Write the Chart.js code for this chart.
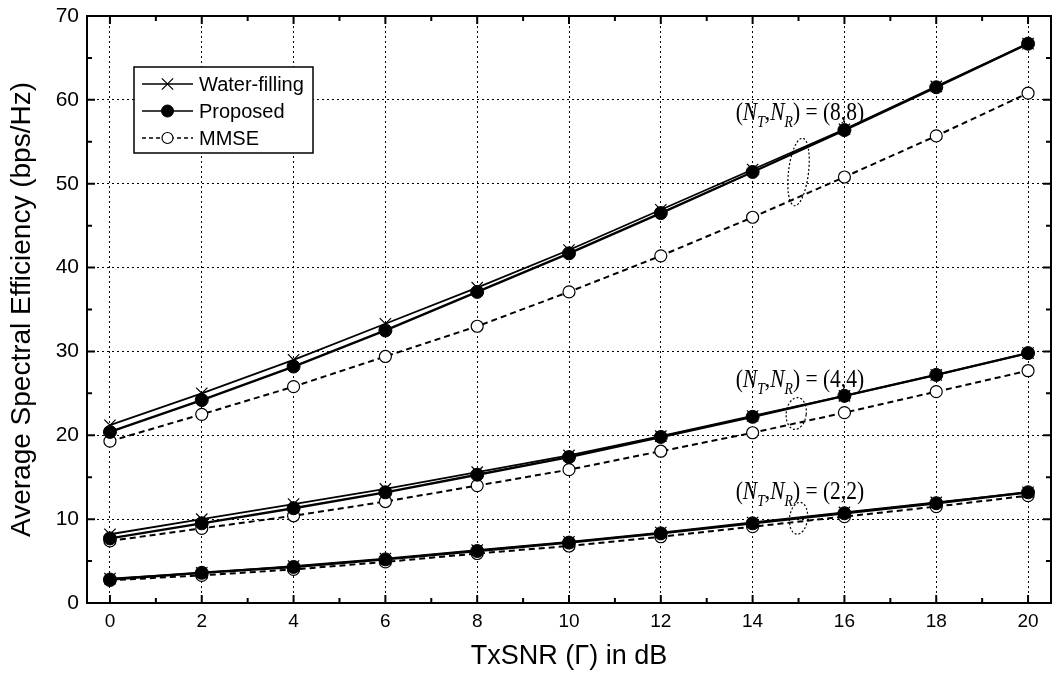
<!DOCTYPE html>
<html lang="en">
<head>
    <meta charset="UTF-8">
    <title>Average Spectral Efficiency vs TxSNR</title>
    <script src="https://cdn.jsdelivr.net/npm/chart.js"></script>
    <style>
        html, body { margin: 0; padding: 0; background: #fff; }
        #wrap { width: 1056px; height: 675px; }
    </style>
</head>
<body>
    <div id="wrap"><canvas id="seChart"></canvas></div>

    <script>
        // TxSNR points (dB)
        const snrDb = [0, 2, 4, 6, 8, 10, 12, 14, 16, 18, 20];

        // (NT,NR) = (8,8)
        const wf8   = [21.2, 25.0, 29.0, 33.3, 37.6, 42.1, 46.9, 51.7, 56.5, 61.6, 66.7];
        const prop8 = [20.4, 24.2, 28.2, 32.5, 37.1, 41.7, 46.5, 51.4, 56.4, 61.5, 66.7];
        const mmse8 = [19.3, 22.5, 25.8, 29.4, 33.0, 37.1, 41.4, 46.0, 50.8, 55.7, 60.8];

        // (NT,NR) = (4,4)
        const wf4   = [8.2, 10.0, 11.8, 13.6, 15.6, 17.6, 19.9, 22.3, 24.7, 27.2, 29.8];
        const prop4 = [7.7, 9.5, 11.3, 13.2, 15.3, 17.4, 19.8, 22.2, 24.7, 27.2, 29.8];
        const mmse4 = [7.4, 8.9, 10.4, 12.1, 14.0, 15.9, 18.1, 20.3, 22.7, 25.2, 27.7];

        // (NT,NR) = (2,2)
        const wf2   = [2.9, 3.6, 4.4, 5.3, 6.3, 7.3, 8.4, 9.6, 10.8, 12.0, 13.2];
        const prop2 = [2.8, 3.6, 4.3, 5.2, 6.2, 7.2, 8.3, 9.5, 10.7, 11.9, 13.2];
        const mmse2 = [2.7, 3.3, 4.0, 4.9, 5.9, 6.8, 7.9, 9.1, 10.3, 11.5, 12.8];

        const xTicks = [0, 2, 4, 6, 8, 10, 12, 14, 16, 18, 20];
        const yTicks = [0, 10, 20, 30, 40, 50, 60, 70];
        const legendNames = ['Water-filling', 'Proposed', 'MMSE'];
        const antennaSets = ['8,8', '4,4', '2,2'];

        const toPoints = ys => ys.map((y, i) => ({ x: snrDb[i], y: y }));

        const styles = {
            wf:   { borderColor: '#000', borderWidth: 1.8, pointStyle: 'crossRot', pointRadius: 8,
                    pointBorderWidth: 1.2, pointBackgroundColor: '#000', pointBorderColor: '#000' },
            prop: { borderColor: '#000', borderWidth: 2.4, pointStyle: 'circle', pointRadius: 6.5,
                    pointBorderWidth: 1, pointBackgroundColor: '#000', pointBorderColor: '#000' },
            mmse: { borderColor: '#000', borderWidth: 2, borderDash: [6, 4], pointStyle: 'circle', pointRadius: 6,
                    pointBorderWidth: 1.2, pointBackgroundColor: '#fff', pointBorderColor: '#000' }
        };

        function series(label, ys, st) {
            return Object.assign({ label: label, data: toPoints(ys), fill: false, tension: 0 }, st);
        }

        const datasets = [
            series('Proposed', prop8, styles.prop),
            series('Water-filling', wf8, styles.wf),
            series('MMSE', mmse8, styles.mmse),
            series('Proposed', prop4, styles.prop),
            series('Water-filling', wf4, styles.wf),
            series('MMSE', mmse4, styles.mmse),
            series('Proposed', prop2, styles.prop),
            series('Water-filling', wf2, styles.wf),
            series('MMSE', mmse2, styles.mmse)
        ];

        // frame with inward major/minor ticks
        const framePlugin = {
            id: 'frame',
            afterDraw(chart) {
                const { ctx, chartArea: a, scales: { x, y } } = chart;
                ctx.save();
                ctx.strokeStyle = '#000';
                ctx.lineWidth = 2;
                ctx.strokeRect(a.left, a.top, a.right - a.left, a.bottom - a.top);
                ctx.beginPath();
                for (let v = 0; v <= 20; v++) {
                    const px = x.getPixelForValue(v);
                    const len = v % 2 === 0 ? 8 : 5;
                    ctx.moveTo(px, a.bottom); ctx.lineTo(px, a.bottom - len);
                    ctx.moveTo(px, a.top); ctx.lineTo(px, a.top + len);
                }
                for (let v = 0; v <= 70; v += 5) {
                    const py = y.getPixelForValue(v);
                    const len = v % 10 === 0 ? 8 : 5;
                    ctx.moveTo(a.left, py); ctx.lineTo(a.left + len, py);
                    ctx.moveTo(a.right, py); ctx.lineTo(a.right - len, py);
                }
                ctx.stroke();
                ctx.restore();
            }
        };

        // boxed legend in the upper left of the plot
        const legendPlugin = {
            id: 'boxLegend',
            afterDraw(chart) {
                const ctx = chart.ctx;
                const bx = 134, by = 67, bw = 179, bh = 86;
                ctx.save();
                ctx.fillStyle = '#fff';
                ctx.fillRect(bx, by, bw, bh);
                ctx.strokeStyle = '#000';
                ctx.lineWidth = 1.5;
                ctx.strokeRect(bx, by, bw, bh);
                const keys = ['wf', 'prop', 'mmse'];
                ctx.font = '20px "Liberation Sans", Arial, sans-serif';
                ctx.textBaseline = 'middle';
                keys.forEach((k, i) => {
                    const st = styles[k];
                    const yy = by + 17 + i * 27;
                    const mx = 167.5;
                    ctx.lineWidth = 1.5;
                    ctx.strokeStyle = '#000';
                    ctx.setLineDash(st.borderDash ? [4, 3] : []);
                    ctx.beginPath();
                    ctx.moveTo(142, yy); ctx.lineTo(193, yy);
                    ctx.stroke();
                    ctx.setLineDash([]);
                    ctx.fillStyle = st.pointBackgroundColor;
                    ctx.lineWidth = st.pointBorderWidth;
                    ctx.beginPath();
                    if (k === 'wf') {
                        const r = 8 * Math.SQRT1_2;
                        ctx.moveTo(mx - r, yy - r); ctx.lineTo(mx + r, yy + r);
                        ctx.moveTo(mx - r, yy + r); ctx.lineTo(mx + r, yy - r);
                        ctx.stroke();
                    } else {
                        ctx.arc(mx, yy, k === 'prop' ? 6 : 5.5, 0, Math.PI * 2);
                        ctx.fill(); ctx.stroke();
                    }
                    ctx.fillStyle = '#000';
                    ctx.fillText(legendNames[i], 199, yy + 1);
                });
                ctx.restore();
            }
        };

        // (NT,NR) labels with dotted ellipses around each group
        const groupNotes = [
            { set: antennaSets[0], lx: 13.63, ly: 57.6, ex: 15.0, ey: 51.4, rx: 10, ry: 34 },
            { set: antennaSets[1], lx: 13.63, ly: 25.8, ex: 14.95, ey: 22.6, rx: 10, ry: 16 },
            { set: antennaSets[2], lx: 13.63, ly: 12.4, ex: 15.0, ey: 10.1, rx: 9, ry: 16 }
        ];

        const serif = '"Liberation Serif", "Times New Roman", serif';

        const notesPlugin = {
            id: 'groupNotes',
            afterDatasetsDraw(chart) {
                const { ctx, scales: { x, y } } = chart;
                ctx.save();
                groupNotes.forEach(n => {
                    const cx = x.getPixelForValue(n.ex), cy = y.getPixelForValue(n.ey);
                    ctx.setLineDash([2, 2]);
                    ctx.lineWidth = 1.2;
                    ctx.strokeStyle = '#000';
                    ctx.beginPath();
                    ctx.ellipse(cx, cy, n.rx, n.ry, 0.12, 0, Math.PI * 2);
                    ctx.stroke();
                    ctx.setLineDash([]);

                    const x0 = x.getPixelForValue(n.lx);
                    const py = y.getPixelForValue(n.ly);
                    ctx.save();
                    ctx.translate(x0, py);
                    ctx.scale(0.86, 1);
                    ctx.fillStyle = '#000';
                    ctx.textBaseline = 'alphabetic';
                    const parts = [
                        ['(', '25px ' + serif, 0],
                        ['N', 'italic 25px ' + serif, 0],
                        ['T', 'italic 16px ' + serif, 7],
                        [',', '25px ' + serif, 0],
                        ['N', 'italic 25px ' + serif, 0],
                        ['R', 'italic 16px ' + serif, 7],
                        [') = (' + n.set + ')', '25px ' + serif, 0]
                    ];
                    let px = 0;
                    parts.forEach(([t, f, dy]) => {
                        ctx.font = f;
                        ctx.fillText(t, px, dy);
                        px += ctx.measureText(t).width;
                    });
                    ctx.restore();
                });
                ctx.restore();
            }
        };

        const sans = '"Liberation Sans", Arial, sans-serif';

        new Chart(document.getElementById('seChart'), {
            type: 'line',
            data: { datasets: datasets },
            options: {
                responsive: true,
                maintainAspectRatio: false,
                animation: false,
                layout: { autoPadding: false, padding: { left: 0, right: 5, top: 16, bottom: 0 } },
                plugins: { legend: { display: false }, tooltip: { enabled: false } },
                scales: {
                    x: {
                        type: 'linear',
                        min: -0.5,
                        max: 20.5,
                        afterBuildTicks: s => { s.ticks = xTicks.map(v => ({ value: v })); },
                        afterFit: s => { s.height = 72; s.paddingLeft = 0; s.paddingRight = 0; },
                        grid: { color: '#000', lineWidth: 1, drawTicks: false },
                        border: { display: false, dash: [2, 3] },
                        ticks: { color: '#000', font: { family: sans, size: 19 }, padding: 7, maxRotation: 0 },
                        title: { display: true, text: 'TxSNR (Γ) in dB', color: '#000',
                                 font: { family: sans, size: 27 }, padding: { top: 2, bottom: 2 } }
                    },
                    y: {
                        min: 0,
                        max: 70,
                        afterBuildTicks: s => { s.ticks = yTicks.map(v => ({ value: v })); },
                        afterFit: s => { s.width = 87; s.paddingTop = 0; s.paddingBottom = 0; },
                        grid: { color: '#000', lineWidth: 1, drawTicks: false },
                        border: { display: false, dash: [2, 3] },
                        ticks: { color: '#000', font: { family: sans, size: 21 }, padding: 8 },
                        title: { display: true, text: 'Average Spectral Efficiency (bps/Hz)', color: '#000',
                                 font: { family: sans, size: 28 }, padding: { top: 5, bottom: 2 } }
                    }
                }
            },
            plugins: [framePlugin, notesPlugin, legendPlugin]
        });
    </script>
</body>
</html>
